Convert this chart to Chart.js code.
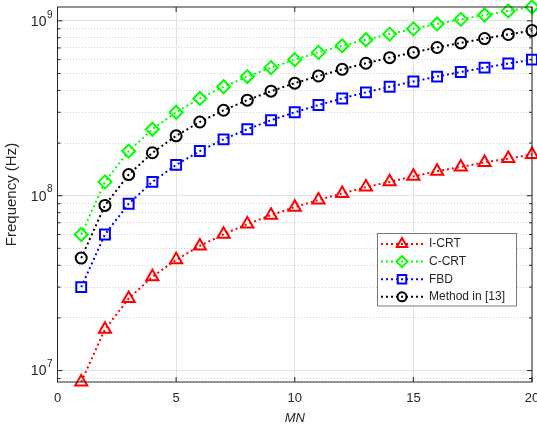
<!DOCTYPE html>
<html>
<head>
<meta charset="utf-8">
<script src="https://cdn.jsdelivr.net/npm/chart.js@4/dist/chart.umd.min.js"></script>
<style>
  html, body { margin: 0; padding: 0; background: #fff; }
  #wrap { width: 537px; height: 432px; }
</style>
</head>
<body>
<div id="wrap"><canvas id="freqChart"></canvas></div>
<script>
// valores (MN = 1..20)
const mn = [1, 2, 3, 4, 5, 6, 7, 8, 9, 10, 11, 12, 13, 14, 15, 16, 17, 18, 19, 20];
const icrt = [8.6e6, 1.72e7, 2.58e7, 3.44e7, 4.3e7, 5.16e7, 6.02e7, 6.88e7, 7.74e7, 8.6e7,
  9.46e7, 1.03e8, 1.12e8, 1.2e8, 1.29e8, 1.38e8, 1.46e8, 1.55e8, 1.63e8, 1.72e8];
const ccrt = [6e7, 1.2e8, 1.8e8, 2.4e8, 3e8, 3.6e8, 4.2e8, 4.8e8, 5.4e8, 6e8,
  6.6e8, 7.2e8, 7.8e8, 8.4e8, 9e8, 9.6e8, 1.02e9, 1.08e9, 1.14e9, 1.2e9];
const fbd = [3e7, 6e7, 9e7, 1.2e8, 1.5e8, 1.8e8, 2.1e8, 2.4e8, 2.7e8, 3e8,
  3.3e8, 3.6e8, 3.9e8, 4.2e8, 4.5e8, 4.8e8, 5.1e8, 5.4e8, 5.7e8, 6e8];
const method13 = [4.4e7, 8.8e7, 1.32e8, 1.76e8, 2.2e8, 2.64e8, 3.08e8, 3.52e8, 3.96e8, 4.4e8,
  4.84e8, 5.28e8, 5.72e8, 6.16e8, 6.6e8, 7.04e8, 7.48e8, 7.92e8, 8.36e8, 8.8e8];

const seriesNames = ['I-CRT', 'C-CRT', 'FBD', 'Method in [13]'];
const xTicks = [0, 5, 10, 15, 20];
const yTicks = [9e6, 1e7, 2e7, 3e7, 4e7, 5e7, 6e7, 7e7, 8e7, 9e7,
  1e8, 2e8, 3e8, 4e8, 5e8, 6e8, 7e8, 8e8, 9e8, 1e9];

const FONT = "'Liberation Sans', Arial, sans-serif";
const TXT = '#262626';
const GRID = '#e3e3e3';

const isDecade = v => {
  const e = Math.round(Math.log10(v));
  return Math.abs(v - Math.pow(10, e)) < 1;
};

const styles = [
  { color: '#ff0000', shape: 'triangle', r: 7 },
  { color: '#00ff00', shape: 'rectRot', r: 6.5 },
  { color: '#0000ff', shape: 'rect', r: 7 },
  { color: '#000000', shape: 'circle', r: 5.5 }
];
const allData = [icrt, ccrt, fbd, method13];

const datasets = allData.map((vals, i) => ({
  label: seriesNames[i],
  data: mn.map((x, k) => ({ x: x, y: vals[k] })),
  borderColor: styles[i].color,
  backgroundColor: 'rgba(0,0,0,0)',
  borderWidth: 2,
  borderDash: [2, 3],
  pointStyle: styles[i].shape,
  pointRadius: styles[i].r,
  pointBorderWidth: 2,
  pointBorderColor: styles[i].color,
  pointBackgroundColor: 'rgba(0,0,0,0)',
  clip: false
}));

// marcador para a legenda
function marker(ctx, shape, x, y, r, color) {
  ctx.save();
  ctx.strokeStyle = color;
  ctx.lineWidth = 2;
  ctx.setLineDash([]);
  ctx.beginPath();
  if (shape === 'triangle') {
    for (let k = 0; k < 3; k++) {
      const a = k * 2 * Math.PI / 3;
      const px = x + Math.sin(a) * r, py = y - Math.cos(a) * r;
      k ? ctx.lineTo(px, py) : ctx.moveTo(px, py);
    }
    ctx.closePath();
  } else if (shape === 'rectRot') {
    ctx.moveTo(x, y - r); ctx.lineTo(x + r, y); ctx.lineTo(x, y + r); ctx.lineTo(x - r, y); ctx.closePath();
  } else if (shape === 'rect') {
    const s = r * Math.SQRT1_2;
    ctx.rect(x - s, y - s, 2 * s, 2 * s);
  } else {
    ctx.arc(x, y, r, 0, Math.PI * 2);
  }
  ctx.stroke();
  ctx.restore();
}

// caixa, ticks para dentro, rótulos dos eixos e legenda no estilo MATLAB
const matlabBox = {
  id: 'matlabBox',
  afterDraw(chart) {
    const { ctx, chartArea: a, scales } = chart;
    ctx.save();
    ctx.strokeStyle = TXT;
    ctx.lineWidth = 1;
    ctx.strokeRect(a.left, a.top, a.right - a.left, a.bottom - a.top);
    ctx.beginPath();
    xTicks.forEach(v => {
      const px = scales.x.getPixelForValue(v);
      ctx.moveTo(px, a.bottom); ctx.lineTo(px, a.bottom - 5);
      ctx.moveTo(px, a.top); ctx.lineTo(px, a.top + 5);
    });
    yTicks.forEach(v => {
      const py = scales.y.getPixelForValue(v);
      const len = isDecade(v) ? 5 : 3;
      ctx.moveTo(a.left, py); ctx.lineTo(a.left + len, py);
      ctx.moveTo(a.right, py); ctx.lineTo(a.right - len, py);
    });
    ctx.stroke();

    // rótulos do eixo x
    ctx.fillStyle = TXT;
    ctx.font = '13px ' + FONT;
    ctx.textAlign = 'center';
    ctx.textBaseline = 'middle';
    xTicks.forEach(v => {
      ctx.fillText(String(v), scales.x.getPixelForValue(v), a.bottom + 16);
    });

    // rótulos 10^n
    yTicks.filter(isDecade).forEach(v => {
      const py = scales.y.getPixelForValue(v);
      const e = String(Math.round(Math.log10(v)));
      ctx.font = '10px ' + FONT;
      const ew = ctx.measureText(e).width;
      ctx.textAlign = 'right';
      const xr = a.left - 5;
      ctx.fillText(e, xr, py - 6);
      ctx.font = '14px ' + FONT;
      ctx.fillText('10', xr - ew - 0.5, py + 1);
    });
    ctx.textAlign = 'left';

    // legenda
    const lx = 377.5, ly = 233.5, lw = 139, lh = 72.5;
    ctx.fillStyle = '#ffffff';
    ctx.fillRect(lx, ly, lw, lh);
    ctx.strokeStyle = '#7a7a7a';
    ctx.strokeRect(lx, ly, lw, lh);
    ctx.font = '12px ' + FONT;
    ctx.textBaseline = 'middle';
    seriesNames.forEach((name, i) => {
      const y = 244 + i * 17.6;
      ctx.strokeStyle = styles[i].color;
      ctx.lineWidth = 2;
      ctx.setLineDash([2, 3]);
      ctx.beginPath();
      ctx.moveTo(381, y); ctx.lineTo(424, y);
      ctx.stroke();
      marker(ctx, styles[i].shape, 402, y, styles[i].r - 1, styles[i].color);
      ctx.fillStyle = TXT;
      ctx.fillText(name, 429, y);
    });
    ctx.restore();
  }
};

new Chart(document.getElementById('freqChart'), {
  type: 'line',
  data: { datasets: datasets },
  options: {
    responsive: true,
    maintainAspectRatio: false,
    animation: false,
    layout: { autoPadding: false, padding: { top: 7, right: 5, left: 0, bottom: 0 } },
    plugins: {
      legend: { display: false },
      tooltip: { enabled: false }
    },
    scales: {
      x: {
        type: 'linear',
        min: 0,
        max: 20,
        afterBuildTicks: s => { s.ticks = xTicks.map(v => ({ value: v })); },
        afterFit: s => { s.height = 50; s.paddingLeft = 0; s.paddingRight = 0; },
        grid: { color: GRID, lineWidth: 1, drawTicks: false },
        border: { display: false },
        ticks: { display: true, maxRotation: 0, callback: () => '' },
        title: {
          display: true, text: 'MN', color: TXT,
          font: { family: FONT, size: 13, style: 'italic' },
          padding: { top: 0, bottom: 6 }
        }
      },
      y: {
        type: 'logarithmic',
        min: 8.6e6,
        max: 1.2e9,
        afterBuildTicks: s => { s.ticks = yTicks.map(v => ({ value: v })); },
        afterFit: s => { s.width = 57.5; s.paddingTop = 0; s.paddingBottom = 0; },
        grid: {
          color: ctx => (ctx.tick && isDecade(ctx.tick.value)) ? GRID : '#d0d0d0',
          lineWidth: 1,
          drawTicks: false
        },
        border: {
          display: false,
          dash: ctx => (ctx.tick && !isDecade(ctx.tick.value)) ? [1, 2] : []
        },
        ticks: { autoSkip: false, callback: () => '' },
        title: {
          display: true, text: 'Frequency (Hz)', color: TXT,
          font: { family: FONT, size: 15 },
          padding: { top: 3, bottom: 0 }
        }
      }
    }
  },
  plugins: [matlabBox]
});
</script>
</body>
</html>
